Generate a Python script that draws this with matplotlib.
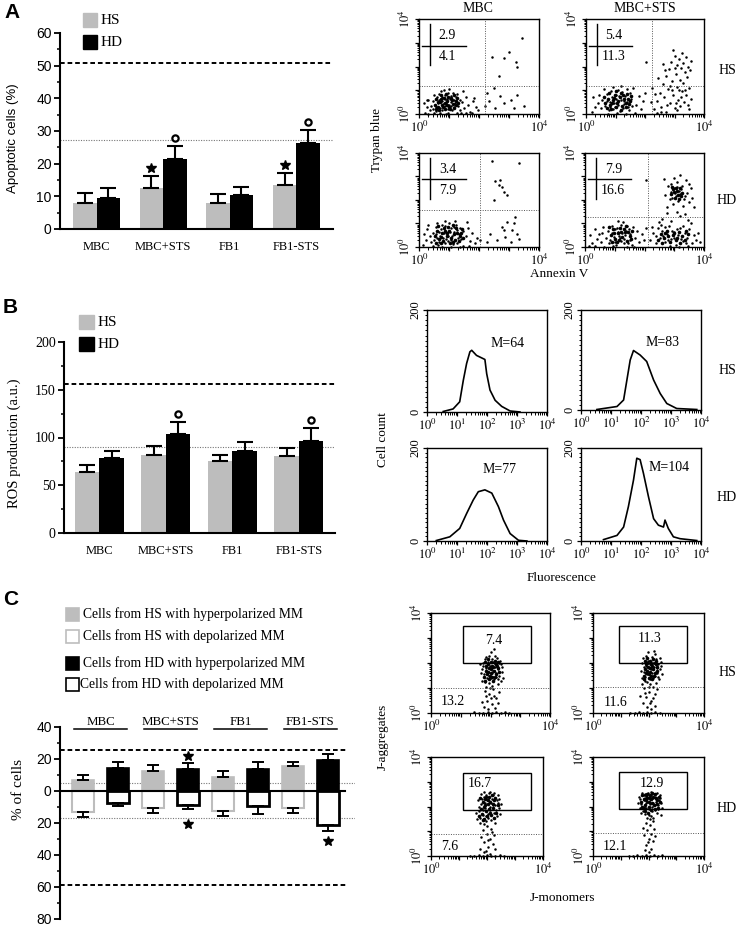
import numpy as np
import matplotlib
matplotlib.use("Agg")
import matplotlib.pyplot as plt
from matplotlib.patches import Rectangle
from matplotlib.ticker import MultipleLocator

plt.rcParams['font.family'] = ['Liberation Serif', 'DejaVu Serif']
plt.rcParams['mathtext.fontset'] = 'stix'

W, H = 741, 927
SANS = ['Liberation Sans', 'DejaVu Sans']
GRAY = '#bdbdbd'

# ---------------- data: bar charts ----------------
groups = ['MBC', 'MBC+STS', 'FB1', 'FB1-STS']

apo_hs = [7.9, 12.6, 7.9, 13.5]
apo_hs_err = [3.2, 3.7, 2.9, 3.6]
apo_hd = [9.4, 21.3, 10.5, 26.2]
apo_hd_err = [3.0, 4.2, 2.3, 4.1]
apo_dashed = 50.8
apo_dotted = 27.1
apo_hs_star = [False, True, False, True]
apo_hd_circle = [False, True, False, True]

ros_hs = [64.2, 82.0, 75.7, 80.9]
ros_hs_err = [7.0, 9.4, 5.6, 8.1]
ros_hd = [78.2, 103.7, 86.2, 96.3]
ros_hd_err = [7.7, 12.2, 9.4, 13.3]
ros_dashed = 156
ros_dotted = 90.4
ros_hd_circle = [False, True, False, True]

mm_hs_hyper = [7.1, 12.3, 8.5, 15.4]
mm_hs_hyper_err = [2.7, 3.7, 3.8, 2.7]
mm_hs_depol = [12.9, 10.4, 12.3, 10.4]
mm_hs_depol_err = [3.6, 3.1, 3.3, 3.1]
mm_hd_hyper = [14.6, 14.0, 14.0, 19.4]
mm_hd_hyper_err = [3.5, 3.5, 4.1, 3.5]
mm_hd_depol = [7.5, 8.75, 9.4, 21.0]
mm_hd_depol_err = [1.9, 2.5, 4.8, 3.8]
mm_dashed = [25.6, -58.8]
mm_dotted = [4.8, -16.7]
mm_star_up = [None, 21.7, None, None]
mm_star_down = [None, -20.4, None, -31.5]
mm_legend = ['Cells from HS with hyperpolarized MM',
             'Cells from HS with depolarized MM',
             'Cells from HD with hyperpolarized MM',
             'Cells from HD with depolarized MM']

# ---------------- data: annexin V / trypan blue dot plots (log10 units) ----------------
annex_titles = ['MBC', 'MBC+STS']
annex_upper = ['2.9', '5.4', '3.4', '7.9']
annex_lower = ['4.1', '11.3', '7.9', '16.6']
annex_qx = [2.19, 2.24, 2.04, 2.12]
annex_qy = [1.20, 1.17, 1.57, 1.29]

annex_tl = ("0.55,0.30 0.62,0.45 0.70,0.25 0.78,0.55 0.85,0.35 0.92,0.62 1.00,0.40 1.08,0.52 1.15,0.28 "
            "1.22,0.70 0.60,0.70 0.68,0.85 0.75,0.15 0.88,0.78 0.95,0.20 1.05,0.75 1.12,0.90 1.20,0.45 "
            "1.30,0.35 1.35,0.60 0.45,0.55 0.50,0.80 0.40,0.35 0.35,0.15 0.30,0.60 0.72,0.95 0.82,1.00 "
            "0.98,0.88 1.28,0.85 1.42,0.50 1.50,0.25 1.55,0.70 1.62,0.40 0.58,0.12 0.65,0.60 0.80,0.42 "
            "0.90,0.48 1.02,0.62 1.10,0.15 1.18,0.60 0.25,0.30 0.20,0.05 0.15,0.45 1.70,0.10 1.80,0.55 "
            "1.45,0.95 1.00,1.05 0.70,0.05 1.25,0.05 0.48,0.22 0.95,0.05 1.38,0.18 1.58,0.05 1.90,0.30 "
            "0.85,0.65 0.75,0.72 1.08,0.35 0.30,0.02 0.50,0.03 0.90,0.02 1.40,0.03 1.75,0.04 "
            "3.44,3.21 2.99,2.63 2.82,2.34 3.22,2.19 3.27,1.98 2.43,2.41 2.66,1.62 2.49,1.11 2.26,0.90 "
            "2.71,0.75 3.05,0.61 3.27,0.82 3.50,0.32 2.32,0.53 2.82,0.46 3.16,0.25 2.54,0.25 2.21,0.32 "
            "1.82,0.68 1.98,0.17 0.25,0.61")
annex_tl_core = ("0.52,0.40 0.58,0.62 0.64,0.28 0.70,0.52 0.76,0.36 0.82,0.68 0.88,0.22 0.94,0.55 1.00,0.30 "
                 "1.06,0.66 1.12,0.44 1.18,0.24 1.24,0.56 1.30,0.48 0.62,0.50 0.74,0.62 0.86,0.46 0.98,0.72 "
                 "1.10,0.58 1.22,0.36 0.68,0.18 0.80,0.28 0.92,0.38 1.04,0.20 1.16,0.78 0.56,0.20 1.28,0.68 "
                 "0.90,0.85 0.72,0.80")
annex_tr = ("0.65,0.35 0.72,0.55 0.80,0.28 0.88,0.70 0.95,0.45 1.02,0.82 1.10,0.38 1.18,0.60 1.25,0.25 "
            "1.32,0.75 1.40,0.50 1.48,0.88 1.55,0.32 0.70,0.85 0.78,0.15 0.85,0.95 0.92,0.22 1.00,0.62 "
            "1.08,1.00 1.15,0.12 1.22,0.92 1.30,0.42 1.38,1.05 1.45,0.18 1.52,0.65 1.60,1.10 0.55,0.60 "
            "0.50,0.25 0.45,0.80 0.40,0.45 0.30,0.30 0.25,0.70 0.20,0.10 1.70,0.40 1.78,0.75 1.85,0.20 "
            "1.92,0.55 2.00,0.90 1.65,0.05 1.20,1.20 0.90,1.15 0.60,1.05 1.05,0.05 0.75,0.02 1.35,0.02 "
            "0.97,0.30 1.12,0.75 1.28,0.55 0.83,0.50 1.43,0.30 "
            "2.30,0.20 2.40,0.55 2.50,0.90 2.55,0.30 2.60,1.25 2.65,0.70 2.70,1.60 2.72,0.10 2.78,1.05 "
            "2.80,1.90 2.85,0.45 2.88,2.20 2.90,1.40 2.95,0.80 3.00,2.45 3.02,0.25 3.05,1.70 3.08,1.15 "
            "3.10,2.05 3.12,0.60 3.15,2.30 3.18,1.45 3.20,0.35 3.22,1.95 3.25,0.95 3.28,2.15 3.30,1.30 "
            "3.32,0.50 3.35,1.75 3.38,2.40 3.40,0.80 3.42,1.55 3.45,2.00 3.48,0.20 3.50,1.10 3.52,1.85 "
            "3.55,0.65 3.57,2.25 3.00,1.95 2.92,1.00 3.15,1.00 3.35,1.00 2.75,0.40 3.05,0.45 2.45,1.50 "
            "2.35,0.85 2.25,1.10 2.20,0.50 2.60,2.10 3.25,2.55 2.95,2.70 2.03,2.21 2.85,1.20 3.10,0.15 "
            "3.45,0.40 2.68,1.85 3.22,0.70 2.55,0.10 2.40,0.05")
annex_tr_core = ("0.66,0.45 0.74,0.65 0.82,0.38 0.90,0.58 0.98,0.80 1.06,0.48 1.14,0.70 1.22,0.35 1.30,0.62 "
                 "1.38,0.85 1.46,0.42 1.54,0.75 0.70,0.25 0.86,0.22 1.02,0.30 1.18,0.88 1.34,0.28 1.50,0.55 "
                 "0.78,0.90 0.94,0.68 1.10,0.55 1.26,0.78 1.42,0.65 0.62,0.72 1.00,0.95 1.20,0.18 0.88,0.48 "
                 "1.36,0.45")
annex_bl = ("0.50,0.30 0.58,0.55 0.65,0.20 0.72,0.75 0.80,0.40 0.88,0.90 0.95,0.25 1.02,0.62 1.10,0.45 "
            "1.18,0.85 1.25,0.15 1.32,0.55 1.40,0.35 1.48,0.70 0.55,0.85 0.62,0.10 0.70,0.48 0.78,0.95 "
            "0.85,0.18 0.92,0.60 1.00,1.00 1.08,0.28 1.15,0.65 1.22,0.95 1.30,0.40 1.38,0.80 1.45,0.05 "
            "0.45,0.60 0.40,0.20 0.35,0.45 0.28,0.75 0.22,0.30 0.15,0.55 0.12,0.10 1.55,0.45 1.62,0.80 "
            "1.70,0.25 1.78,0.60 1.85,0.15 1.92,0.40 1.60,1.05 1.20,1.10 0.85,1.10 0.60,1.00 0.30,0.95 "
            "0.75,0.02 1.05,0.02 1.35,0.02 1.65,0.03 0.45,0.03 0.98,0.45 0.68,0.65 1.12,0.12 1.28,0.72 "
            "0.82,0.58 0.90,0.35 1.05,0.80 0.60,0.38 "
            "2.43,3.64 3.33,3.57 2.54,2.79 2.66,2.64 2.77,2.57 2.82,2.36 2.94,2.21 2.49,2.00 2.71,2.86 "
            "2.77,0.86 2.94,1.07 3.10,0.71 3.16,1.00 3.27,0.57 2.88,0.43 2.60,0.29 3.05,0.21 3.33,0.36 "
            "2.38,0.57 2.26,0.21 2.04,0.29 2.82,0.71 3.21,1.29")
annex_bl_core = ("0.52,0.45 0.60,0.68 0.68,0.32 0.76,0.58 0.84,0.80 0.92,0.45 1.00,0.68 1.08,0.38 1.16,0.55 "
                 "1.24,0.82 1.32,0.25 1.40,0.60 1.48,0.40 0.56,0.18 0.72,0.15 0.88,0.70 1.04,0.15 1.20,0.30 "
                 "1.36,0.48 0.64,0.88 0.80,0.25 0.96,0.85 1.12,0.92 1.28,0.58 1.44,0.78 0.74,0.42 0.94,0.58 "
                 "1.14,0.22")
annex_br = ("0.85,0.30 0.92,0.60 1.00,0.20 1.08,0.80 1.15,0.45 1.22,0.95 1.30,0.35 1.38,0.70 1.45,0.15 "
            "1.52,0.55 1.60,0.85 0.90,0.90 0.98,0.42 1.05,0.10 1.12,0.65 1.20,0.25 1.28,1.05 1.35,0.50 "
            "1.42,0.90 1.50,0.30 1.58,0.10 0.78,0.70 0.70,0.40 0.62,0.85 0.55,0.20 0.48,0.55 0.40,0.35 "
            "0.32,0.75 0.25,0.15 0.18,0.50 0.12,0.05 1.68,0.40 1.75,0.70 1.82,0.20 1.90,0.55 1.98,0.30 "
            "2.05,0.80 1.25,0.60 1.10,1.10 0.95,0.05 0.65,0.02 0.35,0.03 1.65,0.02 1.40,0.02 1.18,0.40 "
            "1.02,0.75 0.80,0.15 0.58,0.60 1.48,0.75 1.32,0.18 "
            "2.20,0.30 2.30,0.60 2.38,0.15 2.45,0.80 2.52,0.40 2.60,0.70 2.68,0.20 2.75,0.55 2.82,0.90 "
            "2.90,0.35 2.98,0.65 3.05,0.10 3.12,0.50 3.20,0.80 3.28,0.25 3.35,0.60 3.42,0.40 3.50,0.75 "
            "3.58,0.15 3.65,0.50 3.72,0.30 3.80,0.60 2.55,0.95 2.85,0.05 3.15,0.02 3.45,0.05 2.40,0.45 "
            "2.70,0.85 3.00,0.40 3.30,0.90 2.62,0.48 2.92,0.70 3.22,0.35 3.38,0.15 2.25,0.85 3.85,0.20 "
            "2.78,0.28 3.08,0.78 "
            "2.60,1.20 2.90,1.10 3.20,1.30 3.45,1.15 2.75,1.45 3.10,1.50 3.35,1.40 3.55,1.00 2.50,1.05 "
            "2.65,2.90 2.70,2.20 2.75,1.70 2.80,2.60 2.85,2.05 2.90,2.35 2.95,1.85 3.00,2.50 3.05,2.15 "
            "3.08,2.75 3.12,1.95 3.15,2.40 3.20,2.25 3.25,2.60 3.28,1.75 3.32,2.05 3.38,2.85 3.42,2.30 "
            "3.48,1.90 3.55,2.50 3.60,2.10 3.65,1.70 2.98,2.95 3.18,3.05 3.02,2.30 3.10,2.55 2.92,2.10 "
            "3.22,2.45 3.35,2.15 2.88,2.70 3.50,2.70 2.04,2.86")
annex_br_core = ("0.86,0.50 0.94,0.75 1.02,0.35 1.10,0.58 1.18,0.82 1.26,0.42 1.34,0.65 1.42,0.25 1.50,0.48 "
                 "1.58,0.70 0.90,0.20 1.06,0.22 1.22,0.62 1.38,0.88 1.54,0.32 0.98,0.60 1.14,0.30 1.30,0.78 "
                 "1.46,0.62 0.82,0.85 "
                 "2.45,0.30 2.55,0.55 2.65,0.38 2.75,0.68 2.85,0.22 2.95,0.50 3.05,0.30 3.15,0.65 3.25,0.45 "
                 "3.35,0.28 3.45,0.55 2.60,0.15 2.80,0.45 3.00,0.60 3.20,0.18 3.40,0.70 2.70,0.60 3.10,0.40 "
                 "2.88,2.25 2.95,2.45 3.02,2.10 3.08,2.38 3.14,2.20 3.20,2.50 3.26,2.30 2.92,2.55 3.00,2.35 "
                 "3.16,2.05 3.22,2.15 3.05,2.50")

# ---------------- data: DCF fluorescence histograms (log10 x, cell count) ----------------
ros_means = ['M=64', 'M=83', 'M=77', 'M=104']
hist_hs_mbc_x = [0.54, 0.87, 1.09, 1.21, 1.32, 1.43, 1.49, 1.65, 1.93, 1.99, 2.10, 2.27, 2.49, 2.77, 3.10]
hist_hs_mbc_y = [1, 6, 20, 62, 95, 118, 121, 111, 103, 75, 43, 23, 11, 2, 0]
hist_hs_sts_x = [0.53, 1.20, 1.42, 1.53, 1.64, 1.75, 1.97, 2.19, 2.42, 2.64, 2.86, 3.19, 3.86]
hist_hs_sts_y = [1, 7, 20, 60, 100, 119, 110, 97, 60, 33, 13, 3, 1]
hist_hd_mbc_x = [0.31, 0.76, 1.09, 1.32, 1.54, 1.71, 1.93, 2.16, 2.38, 2.55, 2.77, 3.05, 3.33]
hist_hd_mbc_y = [1, 9, 27, 59, 88, 106, 110, 103, 74, 45, 16, 1.5, 0]
hist_hd_sts_x = [0.75, 1.20, 1.42, 1.58, 1.75, 1.86, 1.97, 2.08, 2.25, 2.42, 2.58, 2.75, 2.80, 2.91,
                 3.08, 3.30, 3.86]
hist_hd_sts_y = [3, 12, 30, 74, 131, 178, 175, 146, 95, 48, 34, 30, 45, 27, 9, 5, 1]

# ---------------- data: JC-1 dot plots (log10 units) ----------------
jc_gate_x0 = [1.09, 0.92, 1.13, 0.92]
jc_gate_x1 = [3.36, 3.37, 3.58, 3.37]
jc_gate_y0 = [2.01, 2.00, 1.85, 1.90]
jc_gate_y1 = [3.47, 3.50, 3.36, 3.40]
jc_high = ['7.4', '11.3', '16.7', '12.9']
jc_high_pos = [(2.10, 2.91), (2.05, 2.98), (1.76, 2.93), (2.11, 2.93)]
jc_low = ['13.2', '11.6', '7.6', '12.1']
jc_cut = [1.02, 1.06, 0.87, 0.91]

jc_tl = ("1.70,1.30 1.78,1.55 1.85,1.80 1.92,2.05 2.00,1.40 2.08,1.70 2.15,1.95 2.22,2.20 2.30,1.50 "
         "2.38,1.85 1.75,2.00 1.82,1.25 1.90,1.65 1.98,1.90 2.05,2.15 2.12,1.35 2.20,1.60 2.28,2.00 "
         "2.35,1.30 1.72,1.75 1.80,2.15 1.88,1.40 1.95,1.20 2.02,1.80 2.10,2.05 2.18,1.45 2.25,1.75 "
         "2.32,2.10 2.40,1.65 1.68,1.60 1.76,1.90 1.84,2.25 1.94,1.50 2.04,1.60 2.14,1.85 2.24,1.35 "
         "2.34,1.95 1.86,1.05 2.06,1.10 2.26,1.15 1.96,2.30 2.16,2.28 1.66,1.95 2.42,1.40 2.00,2.45 "
         "2.12,2.55 1.80,0.90 1.95,0.75 2.10,0.95 2.20,0.60 1.88,0.50 2.05,0.35 2.15,0.20 1.78,0.25 "
         "1.92,0.15 2.25,0.40 2.00,0.60 1.85,0.70 2.12,0.70 1.70,0.45 2.30,0.85 1.98,1.00 1.60,0.02 "
         "1.75,0.02 1.90,0.03 2.05,0.02 2.20,0.03 2.35,0.02 2.50,0.03 1.45,0.03 2.62,0.02")
jc_tl_core = ("1.78,1.45 1.84,1.70 1.90,1.95 1.96,1.35 2.02,1.60 2.08,1.85 2.14,2.10 2.20,1.55 2.26,1.80 "
              "1.82,2.05 1.88,1.55 1.94,1.80 2.00,2.05 2.06,1.45 2.12,1.70 2.18,1.95 2.24,2.05 1.80,1.30 "
              "1.92,1.65 2.04,1.90 2.16,1.45 2.28,1.65 1.86,1.90 1.98,1.50 2.10,1.30 2.22,1.90 2.00,1.75 "
              "1.90,2.15")
jc_tr = ("1.75,1.40 1.82,1.65 1.90,1.90 1.98,2.10 2.05,1.35 2.12,1.60 2.20,1.85 2.28,2.15 2.35,1.45 "
         "2.42,1.75 1.78,2.00 1.86,1.30 1.94,1.55 2.02,1.80 2.10,2.05 2.18,1.40 2.26,1.65 2.34,1.95 "
         "2.40,2.20 1.72,1.70 1.80,2.20 1.88,1.45 1.96,1.25 2.04,1.95 2.14,2.25 2.22,1.50 2.30,1.80 "
         "2.38,1.35 2.46,1.90 1.84,1.85 1.92,2.30 2.00,1.60 2.08,1.75 2.16,2.00 2.24,2.35 2.32,1.60 "
         "1.98,2.45 2.20,2.50 1.76,1.15 2.44,2.05 2.06,1.15 2.26,1.20 2.48,1.55 1.85,1.00 2.00,0.85 "
         "2.15,1.05 1.92,0.65 2.08,0.50 2.22,0.75 1.80,0.40 1.95,0.25 2.10,0.15 2.25,0.30 2.02,1.05 "
         "1.88,0.80 2.18,0.60 1.70,0.70 2.30,0.95 2.05,0.40 1.50,0.02 1.65,0.03 1.80,0.02 1.95,0.03 "
         "2.10,0.02 2.25,0.03 2.40,0.02 1.35,0.02")
jc_tr_core = ("1.82,1.50 1.88,1.75 1.94,2.00 2.00,1.40 2.06,1.65 2.12,1.90 2.18,2.15 2.24,1.60 2.30,1.85 "
              "1.86,2.10 1.92,1.60 1.98,1.85 2.04,2.10 2.10,1.50 2.16,1.75 2.22,2.00 2.28,2.10 1.84,1.35 "
              "1.96,1.70 2.08,1.95 2.20,1.50 2.32,1.70 1.90,1.95 2.02,1.55 2.14,1.35 2.26,1.95 2.04,1.80 "
              "1.94,2.20")
jc_bl = ("1.65,1.50 1.72,1.80 1.80,2.10 1.88,2.40 1.95,1.40 2.02,1.70 2.10,2.00 2.18,2.30 2.25,1.55 "
         "2.32,1.85 2.40,2.15 2.46,1.70 1.68,2.25 1.76,1.35 1.84,1.65 1.92,1.95 2.00,2.25 2.08,2.55 "
         "2.16,1.45 2.24,1.75 2.30,2.05 2.38,2.45 1.70,2.00 1.78,2.50 1.86,1.85 1.94,2.15 2.04,1.55 "
         "2.12,1.85 2.20,2.45 2.28,1.35 2.36,1.60 2.44,2.30 1.62,1.75 1.82,2.30 1.90,1.30 1.98,1.60 "
         "2.06,1.90 2.14,2.15 2.22,2.05 2.34,2.25 1.74,1.55 2.42,1.95 1.96,2.45 2.10,2.60 2.26,2.55 "
         "1.88,2.60 2.50,2.10 2.00,1.20 2.16,1.10 1.85,1.05 2.00,0.90 2.12,0.70 1.90,0.55 2.05,0.35 "
         "2.20,0.50 1.80,0.75 1.95,0.20 2.10,0.10 2.25,0.85 1.75,0.30 2.02,0.65 2.18,0.95 1.88,0.15 "
         "2.30,0.30 1.55,0.02 1.70,0.03 1.85,0.02 2.00,0.03 2.15,0.02 2.30,0.02 2.45,0.03 2.60,0.02 "
         "1.40,0.02")
jc_bl_core = ("1.72,1.60 1.78,1.90 1.84,2.20 1.90,1.50 1.96,1.80 2.02,2.10 2.08,2.40 2.14,1.65 2.20,1.95 "
              "2.26,2.25 2.32,1.75 2.38,2.05 1.76,2.35 1.82,1.70 1.88,2.00 1.94,2.30 2.00,1.60 2.06,1.90 "
              "2.12,2.20 2.18,2.45 2.24,1.55 2.30,2.35 1.86,1.45 1.98,2.40 2.10,1.75 2.22,2.10 2.04,2.25 "
              "1.92,2.05")
jc_br = ("1.65,2.40 1.72,2.10 1.80,1.80 1.88,2.50 1.95,2.20 2.02,1.90 2.10,1.60 2.18,2.35 2.25,2.05 "
         "2.32,1.75 2.40,2.45 2.46,2.15 1.68,1.95 1.76,2.55 1.84,2.25 1.92,1.95 2.00,1.65 2.08,2.45 "
         "2.16,2.15 2.24,1.85 2.30,2.55 2.38,2.25 1.70,2.30 1.78,2.00 1.86,1.70 1.94,2.40 2.04,2.10 "
         "2.12,1.80 2.20,2.50 2.28,2.20 2.36,1.90 2.44,1.65 1.62,2.15 1.82,2.45 1.90,2.15 1.98,2.55 "
         "2.06,2.30 2.14,2.00 2.22,2.40 2.34,2.05 2.42,2.35 1.74,1.75 2.00,2.40 2.10,2.60 2.26,2.30 "
         "1.88,2.35 2.48,1.95 2.04,1.50 1.96,1.55 2.18,1.55 1.90,1.35 2.05,1.25 2.15,1.40 1.95,1.05 "
         "2.10,0.90 2.00,0.70 1.85,0.85 2.20,1.10 1.92,0.45 2.08,0.30 2.18,0.60 1.80,1.15 2.02,0.15 "
         "1.88,0.25 2.25,0.80 1.98,0.55 1.45,0.02 1.60,0.03 1.75,0.02 1.90,0.03 2.05,0.02 2.20,0.03 "
         "2.35,0.02 2.50,0.03 1.30,0.02")
jc_br_core = ("1.72,2.20 1.78,2.45 1.84,1.95 1.90,2.25 1.96,2.50 2.02,2.00 2.08,2.30 2.14,2.55 2.20,2.05 "
              "2.26,2.35 2.32,2.10 2.38,2.40 1.76,2.00 1.82,2.30 1.88,2.05 1.94,2.35 2.00,2.20 2.06,2.45 "
              "2.12,2.15 2.18,2.40 2.24,1.90 2.30,2.25 2.36,1.95 2.42,2.20 1.86,1.80 1.98,1.75 2.10,1.85 "
              "2.22,2.50 1.92,2.45 2.04,2.35")


def pts(s):
    a = np.array([p.split(',') for p in s.split()], dtype=float)
    return a[:, 0], a[:, 1]


fig = plt.figure(figsize=(W / 100, H / 100), dpi=100)


def px_axes(x0, y0, x1, y1):
    # axes placed by its pixel box (left, top, right, bottom)
    return fig.add_axes([x0 / W, 1 - y1 / H, (x1 - x0) / W, (y1 - y0) / H])


def style_bar_axes(ax, family, size):
    for s in ['top', 'right']:
        ax.spines[s].set_visible(False)
    ax.spines['left'].set_linewidth(1.5)
    ax.spines['bottom'].set_linewidth(1.5)
    ax.tick_params(axis='y', which='major', direction='out', length=4, width=1.3, pad=2)
    ax.tick_params(axis='y', which='minor', direction='out', length=2.5, width=1.1)
    for lab in ax.get_yticklabels():
        lab.set_family(family)
        lab.set_fontsize(size)


def two_bar_panel(box, c0, step, wpx, hs, hs_err, hd, hd_err, ylim, major, minor,
                  dashed, dotted, family, size):
    ax = px_axes(*box)
    ax.set_xlim((box[0] - c0) / step, (box[2] - c0) / step)
    ax.set_ylim(*ylim)
    x = np.arange(len(groups))
    w = wpx / step
    ax.bar(x - w / 2, hs, w, color=GRAY, zorder=2)
    ax.bar(x + w / 2, hd, w, color='k', zorder=2)
    z = np.zeros(len(groups))
    ax.errorbar(x - w / 2, hs, yerr=[z, hs_err], fmt='none', ecolor='k', elinewidth=1.5,
                capsize=5.5, capthick=1.5, zorder=3)
    ax.errorbar(x + w / 2, hd, yerr=[z, hd_err], fmt='none', ecolor='k', elinewidth=1.5,
                capsize=5.5, capthick=1.5, zorder=3)
    ax.axhline(dashed, color='k', lw=1.4, dashes=(2.4, 1.5), zorder=1)
    ax.axhline(dotted, color='#777777', lw=0.8, dashes=(1, 1.3), zorder=1)
    ax.set_yticks(major)
    ax.yaxis.set_minor_locator(MultipleLocator(minor))
    ax.set_xticks(x)
    ax.set_xticklabels(groups, fontsize=9)
    ax.tick_params(axis='x', length=0, pad=9)
    style_bar_axes(ax, family, size)
    return ax, x, w


# ---------------- A: apoptosis bars ----------------
axA, x, w = two_bar_panel((60, 33, 333, 229), 96.5, 66.6, 23.5, apo_hs, apo_hs_err, apo_hd, apo_hd_err,
                          (0, 60), range(0, 61, 10), 5, apo_dashed, apo_dotted, SANS, 10)
up = 8 / 3.27
for i in range(len(groups)):
    if apo_hs_star[i]:
        axA.plot(x[i] - w / 2, apo_hs[i] + apo_hs_err[i] + up, '*', color='k', ms=7, clip_on=False)
    if apo_hd_circle[i]:
        axA.plot(x[i] + w / 2, apo_hd[i] + apo_hd_err[i] + up, 'o', mfc='white', mec='k', mew=1.6,
                 ms=4.5, clip_on=False)

# ---------------- B: ROS bars ----------------
axB, x, w = two_bar_panel((64, 342, 335, 533), 99.3, 66.5, 24.5, ros_hs, ros_hs_err, ros_hd, ros_hd_err,
                          (0, 200), range(0, 201, 50), 25, ros_dashed, ros_dotted,
                          ['Liberation Serif'], 10)
up = 8 / 0.955
for i in range(len(groups)):
    if ros_hd_circle[i]:
        axB.plot(x[i] + w / 2, ros_hd[i] + ros_hd_err[i] + up, 'o', mfc='white', mec='k', mew=1.6,
                 ms=4.5, clip_on=False)

# ---------------- C: mitochondrial membrane potential bars ----------------
boxC = (60, 727, 355, 919)
c0, step = 100.6, 69.9
axC = px_axes(*boxC)
xl = (boxC[0] - c0) / step
axC.set_xlim(xl, (boxC[2] - c0) / step)
axC.set_ylim(-80, 40)
x = np.arange(len(groups))
off, w = 17.3 / step, 22 / step
z = np.zeros(len(groups))
hsh, hsd = np.array(mm_hs_hyper), -np.array(mm_hs_depol)
hdh, hdd = np.array(mm_hd_hyper), -np.array(mm_hd_depol)
axC.bar(x - off, hsh, w, color=GRAY, edgecolor=GRAY, lw=1.2, zorder=2)
axC.bar(x - off, hsd, w, color='white', edgecolor=GRAY, lw=1.5, zorder=2)
axC.bar(x + off, hdh, w, color='k', edgecolor='k', lw=1.2, zorder=2)
axC.bar(x + off, hdd, w, color='white', edgecolor='k', lw=2, zorder=2)
ek = dict(fmt='none', ecolor='k', elinewidth=1.4, capsize=4.5, capthick=1.4, zorder=3)
axC.errorbar(x - off, hsh, yerr=[z, mm_hs_hyper_err], **ek)
axC.errorbar(x - off, hsd, yerr=[mm_hs_depol_err, z], **ek)
axC.errorbar(x + off, hdh, yerr=[z, mm_hd_hyper_err], **ek)
axC.errorbar(x + off, hdd, yerr=[mm_hd_depol_err, z], **ek)
axC.plot([xl, (345 - c0) / step], [0, 0], color='k', lw=1.5, zorder=4)
for yv in mm_dashed:
    axC.plot([xl, (348 - c0) / step], [yv, yv], color='k', lw=1.4, dashes=(2.4, 1.5), zorder=1)
for yv in mm_dotted:
    axC.plot([xl, (355 - c0) / step], [yv, yv], color='#777777', lw=0.8, dashes=(1, 1.3), zorder=1)
for i, g in enumerate(groups):
    if mm_star_up[i] is not None:
        axC.plot(x[i] + off, mm_star_up[i], '*', color='k', ms=7, clip_on=False)
    if mm_star_down[i] is not None:
        axC.plot(x[i] + off, mm_star_down[i], '*', color='k', ms=7, clip_on=False)
    axC.plot([i - 0.38, i + 0.38], [38.7, 38.7], color='k', lw=1.1, clip_on=False)
    axC.text(i, 39.6, g, ha='center', va='bottom', fontsize=9.3)
axC.set_yticks(range(-80, 41, 20))
axC.set_yticklabels([str(abs(v)) for v in range(-80, 41, 20)])
axC.yaxis.set_minor_locator(MultipleLocator(10))
axC.set_xticks([])
style_bar_axes(axC, SANS, 10)
axC.spines['bottom'].set_visible(False)

# ---------------- flow cytometry helpers ----------------
minor_log = [np.log10(k * 10 ** d) for d in range(4) for k in range(2, 10)]


def flow_axes(box, all_x=False, hist=False):
    ax = px_axes(*box)
    ax.set_xlim(0, 4)
    ax.set_xticks(range(5))
    ax.set_xticks(minor_log, minor=True)
    if all_x:
        ax.set_xticklabels([f'$10^{d}$' for d in range(5)], fontsize=9)
    else:
        ax.set_xticklabels(['$10^0$', '', '', '', '$10^4$'], fontsize=9)
    if hist:
        ax.set_ylim(0, 200)
        ax.set_yticks([0, 200])
        ax.yaxis.set_minor_locator(MultipleLocator(10))
        ax.set_yticklabels(['0', '200'], rotation=90, va='center', fontsize=9)
    else:
        ax.set_ylim(0, 4)
        ax.set_yticks(range(5))
        ax.set_yticks(minor_log, minor=True)
        ax.set_yticklabels(['$10^0$', '', '', '', '$10^4$'], rotation=90, va='center', fontsize=9)
    ax.tick_params(which='major', direction='out', length=3, width=0.9, pad=1)
    ax.tick_params(which='minor', direction='out', length=1.8, width=0.7)
    for s in ax.spines.values():
        s.set_linewidth(1.0)
    return ax


def dots(ax, s, core):
    px_, py_ = pts(s)
    ax.plot(px_, py_, 'o', color='k', ms=1.8, mew=0, clip_on=False)
    cx, cy = pts(core)
    ax.plot(cx, cy, 'o', color='k', ms=2.6, mew=0, clip_on=False)


# ---------------- A: annexin V / trypan blue ----------------
annex_boxes = [(419, 19, 539, 114), (586, 19, 704, 114), (419, 153, 539, 247), (585, 153, 704, 247)]
annex_sets = [(annex_tl, annex_tl_core), (annex_tr, annex_tr_core),
              (annex_bl, annex_bl_core), (annex_br, annex_br_core)]
for k, box in enumerate(annex_boxes):
    ax = flow_axes(box)
    dots(ax, *annex_sets[k])
    ax.axvline(annex_qx[k], color='#555555', lw=0.7, ls=(0, (1, 1.5)))
    ax.axhline(annex_qy[k], color='#555555', lw=0.7, ls=(0, (1, 1.5)))
    ax.plot([0.36, 0.36], [2.05, 3.8], color='k', lw=1)
    ax.plot([0.1, 1.55], [2.88, 2.88], color='k', lw=1)
    ax.text(0.95, 3.3, annex_upper[k], ha='center', va='center', fontsize=10)
    ax.text(0.95, 2.42, annex_lower[k], ha='center', va='center', fontsize=10)

# ---------------- B: fluorescence histograms ----------------
hist_boxes = [(427, 310, 547, 412), (581, 310, 701, 410), (427, 448, 547, 541), (581, 448, 701, 541)]
hist_data = [(hist_hs_mbc_x, hist_hs_mbc_y), (hist_hs_sts_x, hist_hs_sts_y),
             (hist_hd_mbc_x, hist_hd_mbc_y), (hist_hd_sts_x, hist_hd_sts_y)]
mean_pos = [(2.67, 135), (2.73, 135), (2.43, 153), (2.93, 159)]
for k, box in enumerate(hist_boxes):
    ax = flow_axes(box, all_x=True, hist=True)
    ax.plot(hist_data[k][0], hist_data[k][1], color='k', lw=1.2)
    ax.text(mean_pos[k][0], mean_pos[k][1], ros_means[k], ha='center', va='center', fontsize=10)

# ---------------- C: JC-1 ----------------
jc_boxes = [(431, 613, 550, 713), (593, 613, 704, 713), (431, 757, 543, 856), (593, 757, 704, 856)]
jc_sets = [(jc_tl, jc_tl_core), (jc_tr, jc_tr_core), (jc_bl, jc_bl_core), (jc_br, jc_br_core)]
low_pos = [(0.75, 0.46), (0.80, 0.40), (0.68, 0.38), (0.80, 0.38)]
for k, box in enumerate(jc_boxes):
    ax = flow_axes(box)
    dots(ax, *jc_sets[k])
    ax.axhline(jc_cut[k], color='#555555', lw=0.7, ls=(0, (1, 1.5)))
    ax.add_patch(Rectangle((jc_gate_x0[k], jc_gate_y0[k]), jc_gate_x1[k] - jc_gate_x0[k],
                           jc_gate_y1[k] - jc_gate_y0[k], fill=False, ec='k', lw=1.0))
    ax.text(*jc_high_pos[k], jc_high[k], ha='center', va='center', fontsize=10)
    ax.text(*low_pos[k], jc_low[k], ha='center', va='center', fontsize=10)

# ---------------- overlay: panel letters, legends, labels ----------------
ov = fig.add_axes([0, 0, 1, 1])
ov.set_xlim(0, W)
ov.set_ylim(H, 0)
ov.axis('off')

for letter, (lx, ly) in zip('ABC', [(4, 3), (3, 298), (3, 590)]):
    ov.text(lx, ly, letter, ha='left', va='top', fontsize=15, fontweight='bold', family=SANS)

for (sx, sy), col, lab in zip([(83, 13), (83, 35)], [GRAY, 'k'], ['HS', 'HD']):
    ov.add_patch(Rectangle((sx, sy), 14, 14, color=col))
    ov.text(sx + 18, sy + 7, lab, va='center', fontsize=11)
for (sx, sy), col, lab in zip([(79, 315), (79, 337)], [GRAY, 'k'], ['HS', 'HD']):
    ov.add_patch(Rectangle((sx, sy), 15, 14, color=col))
    ov.text(sx + 19, sy + 7, lab, va='center', fontsize=11)

leg_fc = [GRAY, 'white', 'k', 'white']
leg_ec = [GRAY, GRAY, 'k', 'k']
for k, cy in enumerate([614, 636, 663, 684]):
    ov.add_patch(Rectangle((65.5, cy - 6.5), 13, 13, fc=leg_fc[k], ec=leg_ec[k], lw=1.2))
    ov.text(83 if k < 3 else 80.5, cy, mm_legend[k], va='center', fontsize=9.8)

ov.text(13, 138, 'Apoptotic cells (%)', rotation=90, ha='center', va='center', fontsize=9.5, family=SANS)
ov.text(14, 443, 'ROS production (a.u.)', rotation=90, ha='center', va='center', fontsize=10.5)
ov.text(18, 790, '% of cells', rotation=90, ha='center', va='center', fontsize=11)

for t, cx in zip(annex_titles, [478, 645]):
    ov.text(cx, 8, t, ha='center', va='center', fontsize=10)
for y_hs, y_hd in [(70, 200), (370, 497), (673, 808)]:
    ov.text(727, y_hs, 'HS', ha='center', va='center', fontsize=10)
    ov.text(727, y_hd, 'HD', ha='center', va='center', fontsize=10)
ov.text(377, 140, 'Trypan blue', rotation=90, ha='center', va='center', fontsize=9.5)
ov.text(559, 274, 'Annexin V', ha='center', va='center', fontsize=9.5)
ov.text(383, 440, 'Cell count', rotation=90, ha='center', va='center', fontsize=9.5)
ov.text(562, 578, 'Fluorescence', ha='center', va='center', fontsize=9.5)
ov.text(383, 737, 'J-aggregates', rotation=90, ha='center', va='center', fontsize=9.5)
ov.text(562, 898, 'J-monomers', ha='center', va='center', fontsize=9.5)

fig.savefig('out.png', dpi=100)
